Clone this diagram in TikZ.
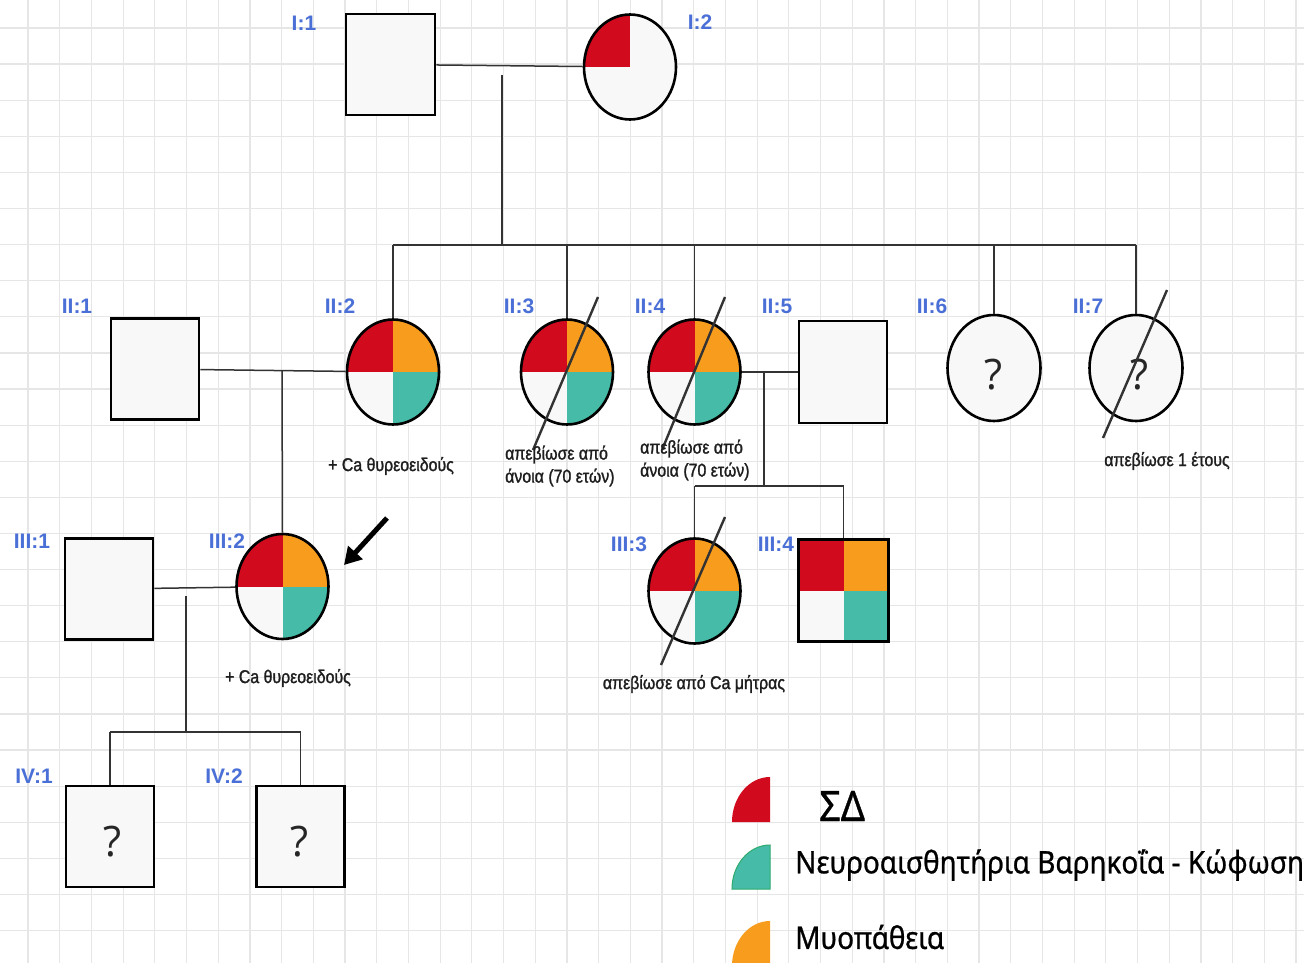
\documentclass[tikz,border=0pt]{standalone}
\usepackage{fontspec}
\setmainfont{Liberation Sans}
\newfontfamily\labfont{Liberation Sans}
\newfontfamily\annfont[FakeStretch=0.86,FakeBold=1.4]{Liberation Sans}
\newfontfamily\legfont[FakeStretch=0.9,FakeBold=0.8]{Noto Sans}
\newfontfamily\qfont{Open Sans}
\usetikzlibrary{shapes.geometric,arrows.meta}
\definecolor{pr}{HTML}{D20A1E}
\definecolor{po}{HTML}{F89C1E}
\definecolor{pt}{HTML}{45BBA8}
\definecolor{ptd}{HTML}{2EAA6E}
\definecolor{pw}{HTML}{F8F8F8}
\definecolor{labblue}{HTML}{4A6FD6}
\definecolor{gridc}{HTML}{E6E6E6}
\definecolor{linec}{HTML}{333333}
\definecolor{annc}{HTML}{1E1E1E}
\tikzset{
  quads/.style n args={4}{path picture={
    \fill[#1] (path picture bounding box.center) rectangle (path picture bounding box.north west);
    \fill[#2] (path picture bounding box.center) rectangle (path picture bounding box.north east);
    \fill[#3] (path picture bounding box.center) rectangle (path picture bounding box.south west);
    \fill[#4] (path picture bounding box.center) rectangle (path picture bounding box.south east);}},
  sqbox/.style={draw=black, line width=2.8pt, fill=pw, rectangle, inner sep=0pt,
    minimum width=88pt, minimum height=101pt},
  cibox/.style={draw=black, line width=2.6pt, fill=pw, ellipse, inner sep=0pt,
    minimum width=92pt, minimum height=105pt},
  qmark/.style={font=\qfont\fontsize{42}{46}\selectfont, text=black!85, inner sep=0pt},
  lab/.style={text=labblue, font=\labfont\bfseries\fontsize{21}{24}\selectfont, inner sep=0pt},
  ann/.style={text=annc, font=\annfont\fontsize{18.5}{23}\selectfont, inner sep=0pt, align=left},
  conn/.style={draw=linec, line width=1.5pt},
  dead/.style={draw=linec, line width=2.4pt},
  legtxt/.style={text=black, font=\legfont\fontsize{31}{36}\selectfont, inner sep=0pt, anchor=west}
}
\begin{document}
\begin{tikzpicture}[x=1pt,y=-1pt]
\useasboundingbox (0,0) rectangle (1304,963);
\fill[white] (0,0) rectangle (1304,963);
% grid
\foreach \k in {0,...,40} {\draw[gridc, line width=1.2pt] ({28+31.7*\k},0) -- ({28+31.7*\k},963);}
\foreach \k in {0,...,25} {\draw[gridc, line width=1.2pt] (0,{28+36.1*\k}) -- (1304,{28+36.1*\k});}

% generation I
\node[sqbox, minimum width=89pt] (I1) at (390.5,64.5) {};
\node[cibox, quads={pr}{pw}{pw}{pw}] (I2) at (630,67) {};
\node[lab] (lI1) at (304,23) {I:1};
\node[lab] (lI2) at (700,22) {I:2};

% generation II
\node[sqbox] (II1) at (155,369) {};
\node[cibox, quads={pr}{po}{pw}{pt}] (II2) at (393,372) {};
\node[cibox, quads={pr}{po}{pw}{pt}] (II3) at (567,372) {};
\node[cibox, quads={pr}{po}{pw}{pt}] (II4) at (694.5,372) {};
\node[sqbox, minimum height=102pt] (II5) at (843,372) {};
\node[cibox, minimum width=93pt, minimum height=106pt] (II6) at (994,368) {};
\node[cibox, minimum width=93pt, minimum height=106pt] (II7) at (1136,368) {};
\node[qmark] (q6) at (994,375) {?};
\node[qmark] (q7) at (1139,375) {?};
\node[lab] (lII1) at (77,306) {II:1};
\node[lab] (lII2) at (340,306) {II:2};
\node[lab] (lII3) at (519,306) {II:3};
\node[lab] (lII4) at (650,306) {II:4};
\node[lab] (lII5) at (777,306) {II:5};
\node[lab] (lII6) at (932,306) {II:6};
\node[lab] (lII7) at (1088,306) {II:7};

% generation III
\node[sqbox] (III1) at (109,589) {};
\node[cibox, quads={pr}{po}{pw}{pt}] (III2) at (282.5,586.5) {};
\node[cibox, quads={pr}{po}{pw}{pt}] (III3) at (694.5,591) {};
\node[sqbox, line width=3.2pt, minimum width=90pt, minimum height=102pt, quads={pr}{po}{pw}{pt}] (III4) at (843.5,590.5) {};
\node[lab] (lIII1) at (32,541) {III:1};
\node[lab] (lIII2) at (227,541) {III:2};
\node[lab] (lIII3) at (629,544) {III:3};
\node[lab] (lIII4) at (776,544) {III:4};

% generation IV
\node[sqbox] (IV1) at (110,836.5) {};
\node[sqbox] (IV2) at (300.5,836.5) {};
\node[qmark] (q41) at (113,842) {?};
\node[qmark] (q42) at (300,842) {?};
\node[lab] (lIV1) at (34,776) {IV:1};
\node[lab] (lIV2) at (224,776) {IV:2};

% connectors
\draw[conn] (I1) -- (I2);
\coordinate (d1a) at (502,75);
\coordinate (d1) at (502,245);
\draw[conn] (d1a) -- (d1);
\draw[conn] (d1 -| II2.north) -- (d1 -| II7.north);
\foreach \n in {II2,II3,II4,II6,II7} {\draw[conn] (d1 -| \n.north) -- (\n.north);}

\draw[conn] (II1) -- (II2);
\coordinate (m2) at (282,371);
\draw[conn] (m2) -- (III2.north);

\draw[conn] (II4) -- (II5);
\coordinate (m3) at (764,372);
\coordinate (d3) at (764,486);
\draw[conn] (m3) -- (d3);
\draw[conn] (d3 -| III3.north) -- (d3 -| III4.north);
\draw[conn] (d3 -| III3.north) -- (III3.north);
\draw[conn] (d3 -| III4.north) -- (III4.north);

\draw[conn] (III1) -- (III2);
\coordinate (m4) at (186,596);
\coordinate (d4) at (186,732);
\draw[conn] (m4) -- (d4);
\draw[conn] (d4 -| IV1.north) -- (d4 -| IV2.north);
\draw[conn] (d4 -| IV1.north) -- (IV1.north);
\draw[conn] (d4 -| IV2.north) -- (IV2.north);

% deceased slashes
\draw[dead] (598,297) -- (533,450);
\draw[dead] (725,297) -- (662,450);
\draw[dead] (1167,290) -- (1103,438);
\draw[dead] (725,517) -- (661,665);

% proband arrow
\coordinate (a1) at (387,518);
\coordinate (a2) at (344,565);
\draw[line width=5pt, -{Triangle[length=17pt,width=19pt]}] (a1) -- (a2);

% annotations
\node[ann] (t2) at (391,466) {+ Ca θυρεοειδούς};
\node[ann, anchor=west] (t3) at (505,466) {απεβίωσε από\\άνοια (70 ετών)};
\node[ann, anchor=west] (t4) at (640,460) {απεβίωσε από\\άνοια (70 ετών)};
\node[ann] (t7) at (1167,461) {απεβίωσε 1 έτους};
\node[ann] (t32) at (288,678) {+ Ca θυρεοειδούς};
\node[ann] (t33) at (694,684) {απεβίωσε από Ca μήτρας};

% legend
\fill[pr] (770,777) arc[start angle=90, end angle=180, x radius=38pt, y radius=45pt] -- (770,822) -- cycle;
\filldraw[fill=pt, draw=ptd, line width=1pt] (770,845) arc[start angle=90, end angle=180, x radius=38pt, y radius=44pt] -- (770,889) -- cycle;
\fill[po] (770,921) arc[start angle=90, end angle=180, x radius=38pt, y radius=45pt] -- (770,966) -- cycle;
\node[legtxt, font=\legfont\fontsize{42}{44}\selectfont] (lg1) at (819,806) {ΣΔ};
\node[legtxt] (lg2) at (795,865) {Νευροαισθητήρια Βαρηκοΐα - Κώφωση};
\node[legtxt] (lg3) at (795,937) {Μυοπάθεια};
\end{tikzpicture}
\end{document}
